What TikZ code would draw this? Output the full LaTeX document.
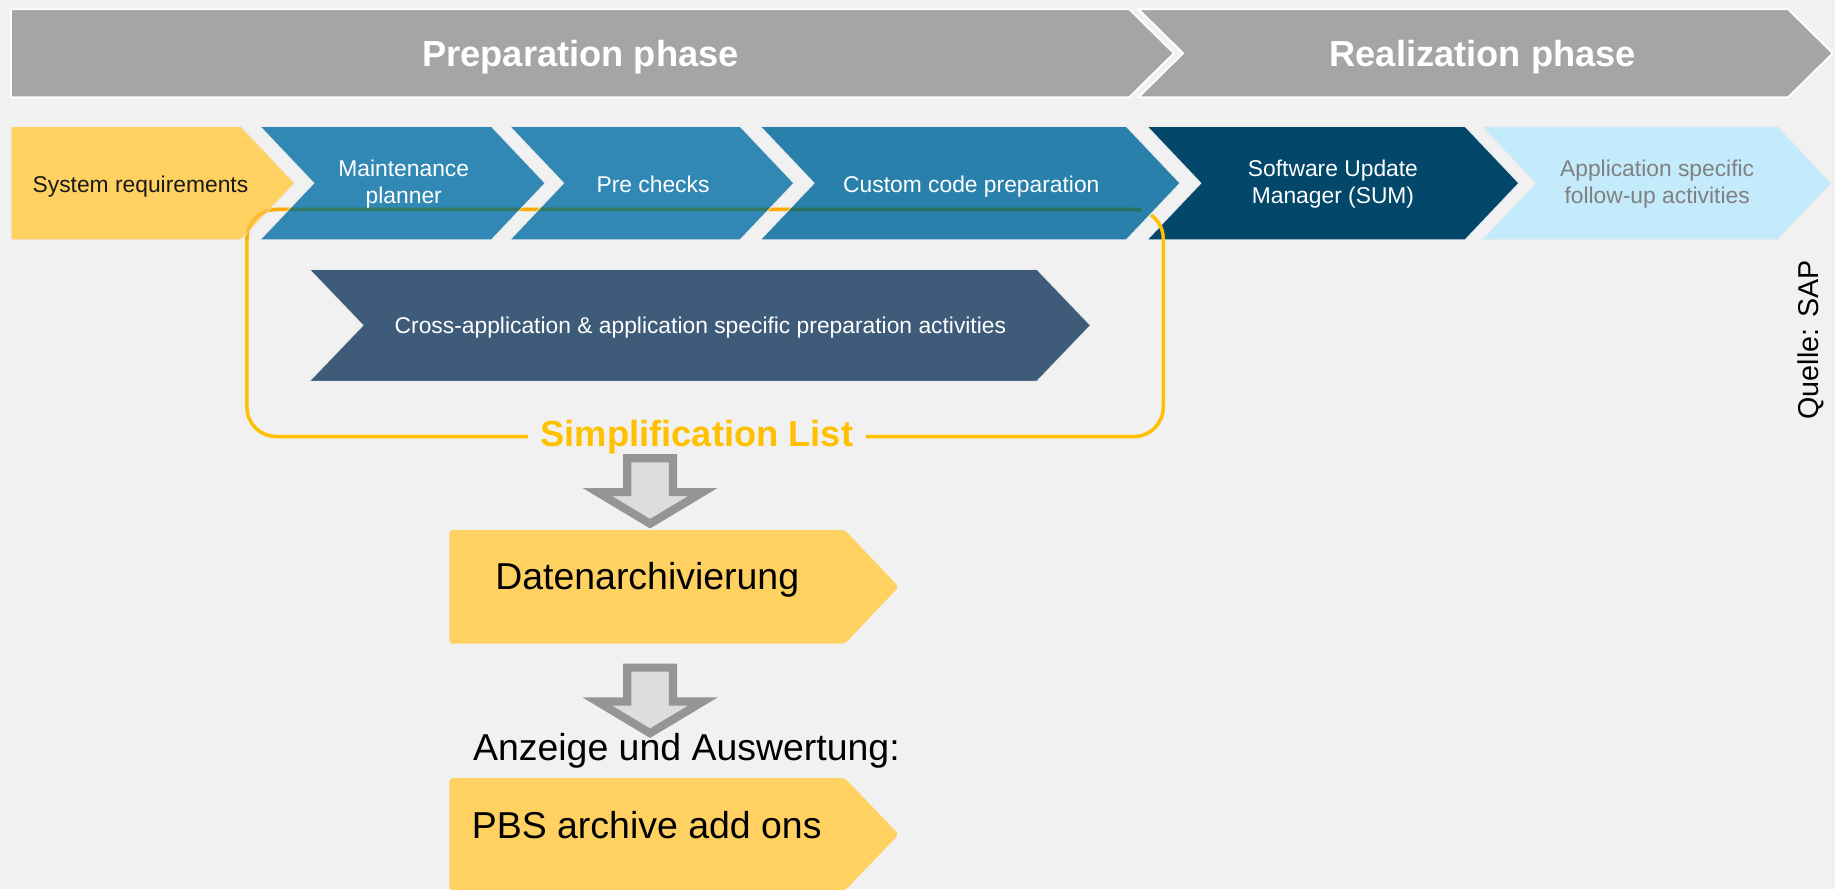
\documentclass[tikz,border=0pt]{standalone}
\usepackage{fontspec}
\setmainfont{Liberation Sans}
\usetikzlibrary{positioning, calc}

\definecolor{bggray}{HTML}{F1F1F1}
\definecolor{phasegray}{HTML}{A5A5A5}
\definecolor{sapyellow}{HTML}{FFD161}
\definecolor{sapblue}{HTML}{3288B4}
\definecolor{sapblueb}{HTML}{2880AB}
\definecolor{sapnavy}{HTML}{03476A}
\definecolor{saplight}{HTML}{C4EBFB}
\definecolor{sapslate}{HTML}{3E5C7A}
\definecolor{ringgold}{HTML}{FFC000}
\definecolor{arrowgray}{HTML}{959595}
\definecolor{arrowfill}{HTML}{DDDDDD}

% chevron: [style] {left} {top right} {top} {bottom} {tip depth} {notch 0/1}
\newcommand{\chevron}[7][]{%
  \path[#1] (#2,#4) -- (#3,#4) -- ({#3+#6},{(#4+#5)/2}) -- (#3,#5) -- (#2,#5)
    -- ({#2+#7*#6},{(#4+#5)/2}) -- cycle;}

\begin{document}
\begin{tikzpicture}[x=1pt, y=-1pt,
    phase/.style={fill=phasegray, draw=white, line width=1.5pt},
    stage/.style={draw=white!85!gray, line width=1pt},
    phaselabel/.style={text=white, font=\fontsize{31}{36}\selectfont\bfseries, anchor=base},
    stagelabel/.style={text=white, font=\fontsize{19.5}{23}\selectfont, align=center},
    ring/.style={draw=ringgold, line width=3pt, rounded corners=25pt},
    notebox/.style={fill=sapyellow, rounded corners=3pt},
    notelabel/.style={font=\fontsize{32}{38}\selectfont, anchor=base west, inner sep=0pt},
    blockarrow/.style={draw=arrowgray, fill=arrowfill, line width=7pt},
]
\fill[bggray] (0,0) rectangle (1568,760);
\useasboundingbox (0,0) rectangle (1568,760);

% phases
\chevron[phase]{9.5}{965}{8}{83}{38}{0}
\chevron[phase]{973}{1528}{8}{83}{38}{1}
\node[phaselabel] (prep) at (496,57) {Preparation phase};
\node[phaselabel] (real) at (1267,57) {Realization phase};

% steps
\chevron[stage, fill=sapnavy]{980}{1252}{108}{205}{46}{1}
\draw[ring] (211,179) rectangle (994,373);
\chevron[stage, fill=sapyellow]{9.5}{206}{108}{205}{46}{0}
\chevron[stage, fill=sapblue]{222}{420}{108}{205}{46}{1}
\chevron[stage, fill=sapblue]{435.5}{632.5}{108}{205}{46}{1}
\chevron[stage, fill=sapblueb]{649.5}{962.5}{108}{205}{46}{1}
\chevron[stage, fill=saplight]{1266}{1519}{108}{205}{46}{1}
\begin{scope}
\clip (200,108) rectangle (975,205);
\draw[ring, draw opacity=0.45, blend mode=multiply] (211,179) rectangle (994,373);
\end{scope}

\node[stagelabel, text=black!90, anchor=base] (sysreq) at (120,164.5) {System requirements};
\node[stagelabel] (maint) at (345,157.5) {Maintenance\\planner};
\node[stagelabel, anchor=base] (prechk) at (558,164.5) {Pre checks};
\node[stagelabel, anchor=base] (custom) at (830,164.5) {Custom code preparation};
\node[stagelabel] (sum) at (1139,157.5) {Software Update\\Manager (SUM)};
\node[stagelabel, text=black!50] (follow) at (1416,157.5) {Application specific\\follow-up activities};

% preparation activities
\chevron[stage, fill=sapslate]{264}{886}{230}{326}{46}{1}
\node[stagelabel, anchor=base] (crossapp) at (598.5,285) {Cross-application \& application specific preparation activities};
\node[fill=bggray, text=ringgold, font=\fontsize{31}{36}\selectfont\bfseries, anchor=base,
      inner xsep=11pt, inner ysep=2pt] (simplist) at (595.5,381.8) {Simplification List};

% archiving
\coordinate (arrtop) at (555.5,391.5);
\coordinate (arrmid) at (555.5,570.5);
\draw[blockarrow, shift={(arrtop)}] (-19.5,0) -- (19.5,0) -- (19.5,29) -- (45,29) -- (0,56) -- (-45,29) -- (-19.5,29) -- cycle;
\chevron[notebox]{384}{722}{453}{550}{46}{0}
\node[notelabel] (datarch) at (423,504) {Datenarchivierung};
\draw[blockarrow, shift={(arrmid)}] (-19.5,0) -- (19.5,0) -- (19.5,29) -- (45,29) -- (0,56) -- (-45,29) -- (-19.5,29) -- cycle;
\node[notelabel] (anzeige) at (404,649.5) {Anzeige und Auswertung:};
\chevron[notebox]{384}{722}{665}{761}{46}{0}
\node[notelabel] (pbs) at (403,716.4) {PBS archive add ons};

\node[rotate=90, font=\fontsize{24.5}{29}\selectfont] (quelle) at (1547,290.5) {Quelle: SAP};
\end{tikzpicture}
\end{document}
